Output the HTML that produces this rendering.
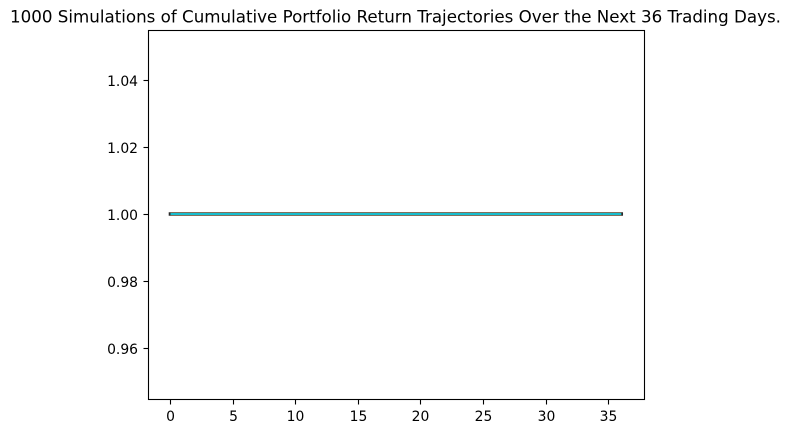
<!DOCTYPE html>
<html>
<head>
<meta charset="utf-8">
<title>Portfolio simulations</title>
<style>
html,body{margin:0;padding:0;background:#fff;width:790px;height:433px;overflow:hidden}
svg{display:block}
text{font-family:"DejaVu Sans","Liberation Sans",sans-serif;fill:#000}
</style>
</head>
<body>
<svg id="chart" xmlns="http://www.w3.org/2000/svg" width="790" height="433" viewBox="0 0 790 433">
  <text x="395.5" y="22.5" text-anchor="middle" font-size="16.7">1000 Simulations of Cumulative Portfolio Return Trajectories Over the Next 36 Trading Days.</text>
  <g id="series"></g>
  <g id="axes"></g>
  <rect x="148.5" y="30.5" width="496" height="369" fill="none" stroke="#000" stroke-width="1.1"/>
</svg>
<script>
const days = [0,1,2,3,4,5,6,7,8,9,10,11,12,13,14,15,16,17,18,19,20,21,22,23,24,25,26,27,28,29,30,31,32,33,34,35,36];
const simBlack = [1,1,1,1,1,1,1,1,1,1,1,1,1,1,1,1,1,1,1,1,1,1,1,1,1,1,1,1,1,1,1,1,1,1,1,1,1];
const simBrownHigh = [1.0003,1.0003,1.0003,1.0003,1.0003,1.0003,1.0003,1.0003,1.0003,1.0003,1.0003,1.0003,1.0003,1.0003,1.0003,1.0003,1.0003,1.0003,1.0003,1.0003,1.0003,1.0003,1.0003,1.0003,1.0003,1.0003,1.0003,1.0003,1.0003,1.0003,1.0003,1.0003,1.0003,1.0003,1.0003,1.0003,1.0003];
const simBrownLow = [0.9997,0.9997,0.9997,0.9997,0.9997,0.9997,0.9997,0.9997,0.9997,0.9997,0.9997,0.9997,0.9997,0.9997,0.9997,0.9997,0.9997,0.9997,0.9997,0.9997,0.9997,0.9997,0.9997,0.9997,0.9997,0.9997,0.9997,0.9997,0.9997,0.9997,0.9997,0.9997,0.9997,0.9997,0.9997,0.9997,0.9997];
const simCyan = [1,1,1,1,1,1,1,1,1,1,1,1,1,1,1,1,1,1,1,1,1,1,1,1,1,1,1,1,1,1,1,1,1,1,1,1,1];
const xTicks = [0,5,10,15,20,25,30,35];
const yTicks = [0.96,0.98,1.00,1.02,1.04];

const SVGNS = 'http://www.w3.org/2000/svg';
function xScale(v){ return 170.5 + v * 12.52; }
function yScale(v){ return 214 - (v - 1) * 3350; }

function drawLine(values, color, width, cap){
  const line = document.createElementNS(SVGNS, 'polyline');
  
  
  line.setAttribute('points', values.map((v, i) => xScale(days[i]) + ',' + yScale(v)).join(' '));
  line.setAttribute('fill', 'none');
  line.setAttribute('stroke', color);
  line.setAttribute('stroke-width', width);
  line.setAttribute('stroke-linecap', cap);
  document.getElementById('series').appendChild(line);
}
drawLine(simBlack, '#2a2a2a', 3.6, 'square');
drawLine(simBrownHigh, '#80705c', 2.08, 'butt');
drawLine(simBrownLow, '#80705c', 2.08, 'butt');
drawLine(simCyan, '#17becf', 2.08, 'butt');

const axes = document.getElementById('axes');
xTicks.forEach(t => {
  const x = Math.floor(xScale(t)) + 0.5;
  const mark = document.createElementNS(SVGNS, 'line');
  
  
  mark.setAttribute('x1', x);
  mark.setAttribute('x2', x);
  mark.setAttribute('y1', 399.5);
  mark.setAttribute('y2', 404.5);
  mark.setAttribute('stroke', '#000');
  mark.setAttribute('stroke-width', 1.1);
  axes.appendChild(mark);
  const label = document.createElementNS(SVGNS, 'text');
  
  
  label.setAttribute('x', x);
  label.setAttribute('y', 421);
  label.setAttribute('text-anchor', 'middle');
  label.setAttribute('font-size', '13.89');
  label.textContent = String(t);
  axes.appendChild(label);
});
yTicks.forEach(t => {
  const y = Math.round(yScale(t)) + 0.5;
  const mark = document.createElementNS(SVGNS, 'line');
  
  
  mark.setAttribute('x1', 143.5);
  mark.setAttribute('x2', 148.5);
  mark.setAttribute('y1', y);
  mark.setAttribute('y2', y);
  mark.setAttribute('stroke', '#000');
  mark.setAttribute('stroke-width', 1.1);
  axes.appendChild(mark);
  const label = document.createElementNS(SVGNS, 'text');
  
  
  label.setAttribute('x', 138);
  label.setAttribute('y', y + 5.5);
  label.setAttribute('text-anchor', 'end');
  label.setAttribute('font-size', '13.89');
  label.textContent = t.toFixed(2);
  axes.appendChild(label);
});
</script>
</body>
</html>
